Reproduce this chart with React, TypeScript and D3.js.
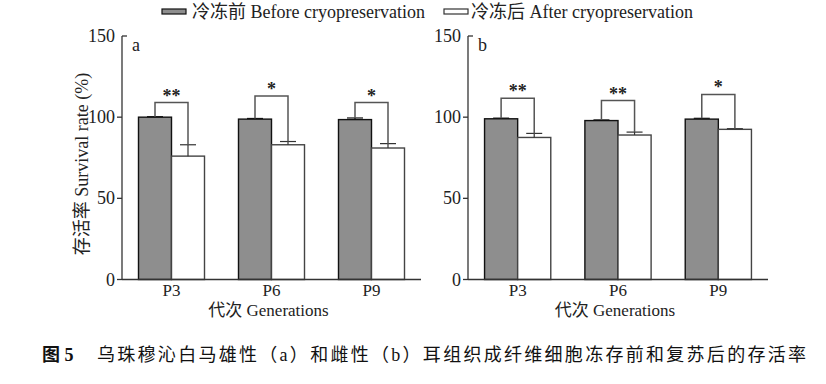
import React from "react";
import { scaleBand, scaleLinear } from "d3";

// categories and ticks
const generations = ["P3", "P6", "P9"];
const yTicks = [0, 50, 100, 150];

// panel a: male
const maleBefore = [100, 98.8, 98.5];
const maleBeforeErr = [0.3, 0.4, 1.0];
const maleAfter = [76, 83, 81];
const maleAfterErr = [7, 2, 2.7];
const maleSig = ["**", "*", "*"];
const maleBracket = [109, 113, 109];

// panel b: female
const femaleBefore = [99.0, 97.9, 98.8];
const femaleBeforeErr = [0.4, 0.4, 0.5];
const femaleAfter = [87.5, 89, 92.5];
const femaleAfterErr = [2.5, 1.8, 0.4];
const femaleSig = ["**", "**", "*"];
const femaleBracket = [111.7, 110.2, 114];

const W = 826;
const H = 384;
const serif = "'Liberation Serif', 'Times New Roman', 'Noto Sans CJK SC', serif";
const GRAY = "#8e8e8e";
const INK = "#222";

type PanelProps = {
  label: string;
  x0: number;
  x1: number;
  before: number[];
  beforeErr: number[];
  after: number[];
  afterErr: number[];
  sig: string[];
  bracket: number[];
  yTitle?: boolean;
};

const Panel = ({ label, x0, x1, before, beforeErr, after, afterErr, sig, bracket, yTitle }: PanelProps) => {
  const y = scaleLinear().domain([0, 150]).range([279.5, 36]);
  const x = scaleBand<string>()
    .domain(generations)
    .range([x0, x1])
    .paddingInner(0.34)
    .paddingOuter(0.165);
  const bw = x.bandwidth() / 2;
  const cap = 8;

  return (
    <g fontFamily={serif} fill={INK}>
      {/* bars */}
      {generations.map((g, i) => {
        const gx = x(g)!;
        const bTop = y(before[i] + beforeErr[i]);
        const aTop = y(after[i] + afterErr[i]);
        const lx = gx + bw / 2;
        const rx = gx + bw * 1.5;
        const by = y(bracket[i]);
        return (
          <g key={g}>
            <rect x={gx} y={y(before[i])} width={bw} height={y(0) - y(before[i])}
              fill={GRAY} stroke="#111" strokeWidth={1.4} />
            <rect x={gx + bw} y={y(after[i])} width={bw} height={y(0) - y(after[i])}
              fill="#fff" stroke="#444" strokeWidth={1.4} />
            {/* error bars */}
            <line x1={lx} x2={lx} y1={y(before[i])} y2={bTop} stroke="#111" strokeWidth={1.2} />
            <line x1={lx - cap} x2={lx + cap} y1={bTop} y2={bTop} stroke="#111" strokeWidth={1.2} />
            <line x1={rx} x2={rx} y1={y(after[i])} y2={aTop} stroke="#333" strokeWidth={1.2} />
            <line x1={rx - cap} x2={rx + cap} y1={aTop} y2={aTop} stroke="#333" strokeWidth={1.2} />
            {/* significance bracket */}
            <path d={`M${lx},${bTop}V${by}H${rx}V${aTop}`} fill="none" stroke="#555" strokeWidth={1.5} />
            <text x={(lx + rx) / 2} y={by - 1} textAnchor="middle" fontSize={18} fontWeight="bold">
              {sig[i]}
            </text>
            <text x={gx + bw} y={296} textAnchor="middle" fontSize={17}>{g}</text>
          </g>
        );
      })}

      {/* axes */}
      <line x1={x0} x2={x0} y1={y(0)} y2={y(150)} stroke="#333" strokeWidth={1.3} />
      <line x1={x0} x2={x1} y1={y(0)} y2={y(0)} stroke="#333" strokeWidth={1.3} />
      {yTicks.map((t) => (
        <g key={t}>
          {t === 150 ? (
            <line x1={x0} x2={x0 + 5} y1={y(t)} y2={y(t)} stroke="#333" strokeWidth={1.3} />
          ) : (
            <line x1={x0 - 5} x2={x0} y1={y(t)} y2={y(t)} stroke="#333" strokeWidth={1.3} />
          )}
          <text x={x0 - 7} y={y(t) + 6} textAnchor="end" fontSize={18}>{t}</text>
        </g>
      ))}
      <text x={x0 + 10} y={51} fontSize={18}>{label}</text>
      <text x={(x0 + x1) / 2 - 3} y={316} textAnchor="middle" fontSize={17}>代次 Generations</text>
      {yTitle && (
        <text transform={`translate(88,164) rotate(-90)`} textAnchor="middle" fontSize={18}>
          存活率 Survival rate (%)
        </text>
      )}
    </g>
  );
};

export default function App() {
  return (
    <svg width={W} height={H} style={{ position: "absolute", left: 0, top: 0, background: "#fff" }}>
      <rect width={W} height={H} fill="#fff" />
      {/* legend */}
      <g fontFamily={serif} fontSize={18} fill={INK}>
        <rect x={162} y={9} width={24} height={5} fill={GRAY} stroke="#111" strokeWidth={1.2} />
        <text x={192} y={18}>冷冻前 Before cryopreservation</text>
        <rect x={444} y={9} width={24} height={5} fill="#fff" stroke="#333" strokeWidth={1.2} />
        <text x={471} y={18}>冷冻后 After cryopreservation</text>
      </g>

      <Panel label="a" x0={122} x1={421} before={maleBefore} beforeErr={maleBeforeErr}
        after={maleAfter} afterErr={maleAfterErr} sig={maleSig} bracket={maleBracket} yTitle />
      <Panel label="b" x0={468} x1={768} before={femaleBefore} beforeErr={femaleBeforeErr}
        after={femaleAfter} afterErr={femaleAfterErr} sig={femaleSig} bracket={femaleBracket} />

      {/* caption */}
      <g fontFamily={serif} fill="#111" fontSize={18}>
        <text x={42} y={361} fontWeight="bold">图 5</text>
        <text x={97} y={361} textLength={709} lengthAdjust="spacing">
          乌珠穆沁白马雄性（a）和雌性（b）耳组织成纤维细胞冻存前和复苏后的存活率
        </text>
      </g>
    </svg>
  );
}
